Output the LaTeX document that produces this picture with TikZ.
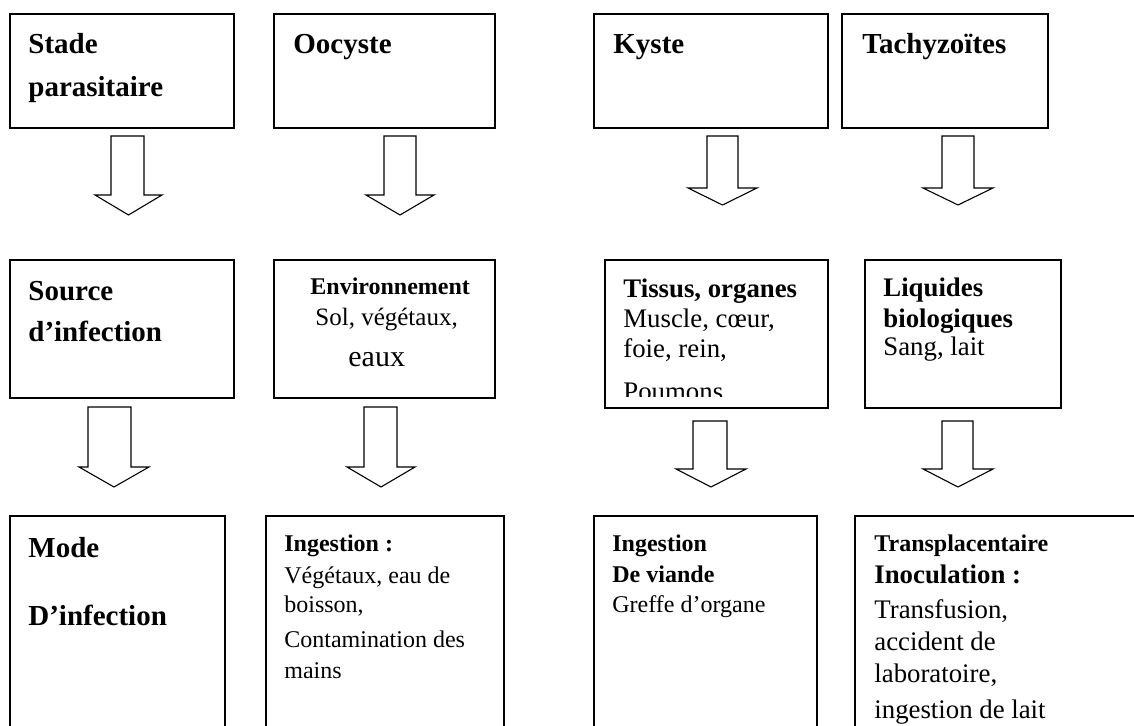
\documentclass[tikz,border=0pt]{standalone}
\usepackage{fontspec}
\setmainfont{Liberation Serif}
\usepackage{tikz}
\usetikzlibrary{positioning}
\newcommand\ftitre{\fontsize{14.5}{17}\selectfont\bfseries}
\newcommand\fgras{\fontsize{12}{14}\selectfont\bfseries}
\newcommand\fnorm{\fontsize{12}{14}\selectfont}
\newcommand\fgrasm{\fontsize{13.4}{16}\selectfont\bfseries}
\newcommand\fnormm{\fontsize{13.4}{16}\selectfont}

\begin{document}
\begin{tikzpicture}[x=0.5pt, y=-0.5pt,
    boite/.style={draw, line width=0.85pt, anchor=north west, inner sep=0pt},
    lbl/.style={anchor=base west, inner sep=0pt},
    fleche/.style={draw, line width=0.55pt, line join=miter}]
    \useasboundingbox (0,0) rectangle (1134,726);
    \clip (0,0) rectangle (1134,726);
    % boites
    \foreach \nom/\x/\y/\w/\h in {stade/9/13/112/57, oocyste/273/13/110.5/57,
        kyste/593/13/117/57, tachy/841/13/103/57,
        source/9/259/112/69, env/273/259/110.5/69,
        tissus/604/259/111.5/74, liquides/864/259/98/74,
        mode/9/515/107.5/150, ingestion/265/515/119/150,
        viande/593/515/111.5/150, inoc/854/515/160/150} {
      \node[boite, minimum width=\w pt, minimum height=\h pt] (\nom) at (\x,\y) {};
    }
    % textes
    \foreach \x/\y/\t [count=\i] in {28/54/{\ftitre Stade}, 28/97/{\ftitre parasitaire},
        293/54/{\ftitre Oocyste}, 613/54/{\ftitre Kyste}, 862/54/{\ftitre Tachyzoïtes},
        28/301/{\ftitre Source}, 28/342/{\ftitre d’infection},
        310/295/{\fgras Environnement}, 315/326/{\fontsize{12.5}{15}\selectfont Sol, végétaux,},
        348/367/{\fontsize{15}{18}\selectfont eaux},
        623/298/{\fgrasm Tissus, organes}, 623/328/{\fnormm Muscle, cœur,},
        623/358/{\fnormm foie, rein,},
        883/297/{\fgrasm Liquides}, 883/328/{\fgrasm biologiques}, 883/356/{\fnormm Sang, lait},
        28/557/{\ftitre Mode}, 28/625/{\ftitre D’infection},
        284/551/{\fgras Ingestion :}, 284/583/{\fnorm Végétaux, eau de},
        284/612/{\fnorm boisson,}, 284/647/{\fnorm Contamination des}, 284/678/{\fnorm mains},
        612/552/{\fgras Ingestion}, 612/582/{\fgras De viande}, 612/612/{\fnorm Greffe d’organe},
        874/552/{\fgras Transplacentaire}, 874/583/{\fgrasm Inoculation :},
        874/618/{\fnormm Transfusion,}, 874/650/{\fnormm accident de},
        874/682/{\fnormm laboratoire,}, 874/718/{\fnormm ingestion de lait}} {
      \node[lbl] (t\i) at (\x,\y) {\t};
    }
    \begin{scope}
      \clip (604,250) rectangle (827,397);
      \node[lbl] (poumons) at (623,401) {\fnormm Poumons.};
    \end{scope}
    % fleches
    \foreach \xa/\xb/\ya/\yb/\ha/\hb/\yt in {111/144/136/195/95/162/215,
        384/416/136/195/366/434/215, 707/738/136/188/688/757/205,
        942/974/136/188/923/993/205, 88/131/407/467/79/149/487,
        364/397/407/467/347/415/487, 693/727/421/469/676/746/487,
        942/973/421/469/923/993/487} {
      \draw[fleche] (\xa,\ya) -- (\xb,\ya) -- (\xb,\yb) -- (\hb,\yb)
        -- ({(\ha+\hb)/2},\yt) -- (\ha,\yb) -- (\xa,\yb) -- cycle;
    }
\end{tikzpicture}
\end{document}
